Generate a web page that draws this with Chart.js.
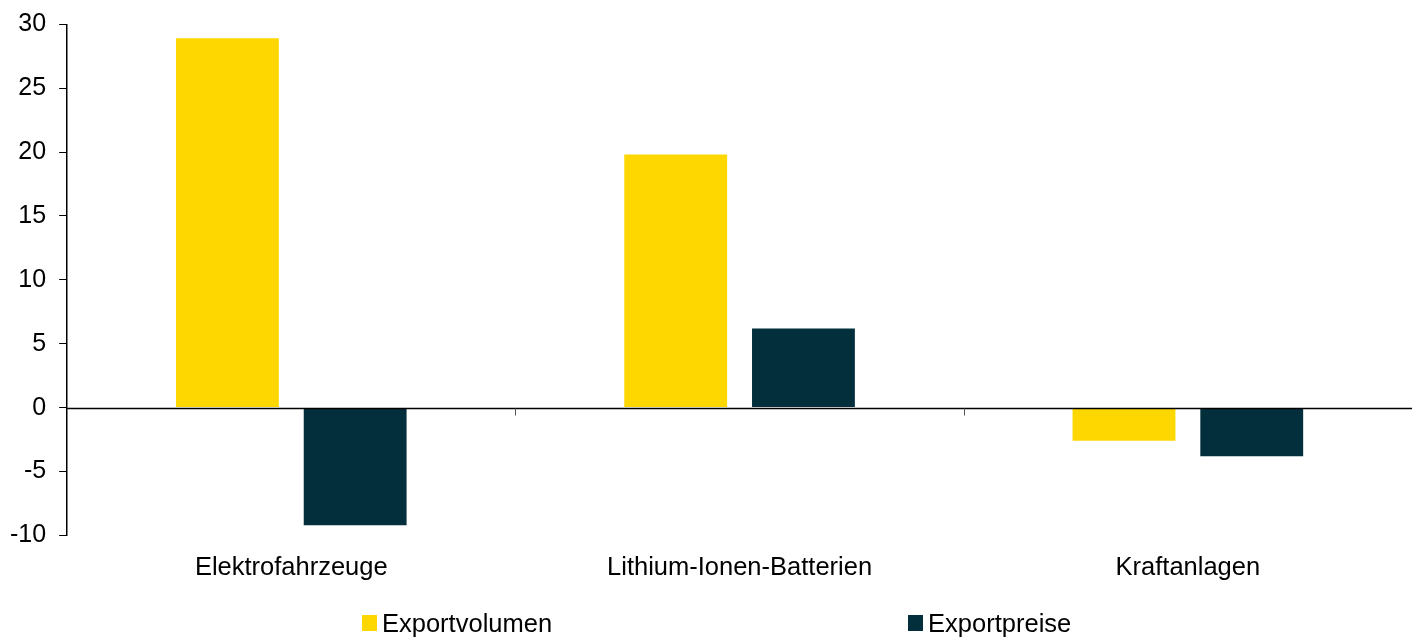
<!DOCTYPE html>
<html>
<head>
<meta charset="utf-8">
<script src="https://cdn.jsdelivr.net/npm/chart.js@4/dist/chart.umd.min.js"></script>
<style>
  html, body { margin: 0; padding: 0; background: #fff; }
  #wrap { position: relative; width: 1412px; height: 637px; }
  #legend {
    position: absolute; left: 362px; top: 608px;
    display: flex; gap: 356px;
    font-family: "Liberation Sans", Arial, sans-serif; font-size: 25.5px; line-height: 30px; color: #000;
  }
  #legend span.item { display: flex; align-items: center; }
  #legend span.box { width: 15px; height: 16px; margin-right: 5px; display: inline-block; }
</style>
</head>
<body>
<div id="wrap">
  <canvas id="myChart" width="1412" height="637"></canvas>
  <div id="legend"></div>
</div>
<script>
const categories = ['Elektrofahrzeuge', 'Lithium-Ionen-Batterien', 'Kraftanlagen']
const exportVolumen = [28.9, 19.8, -2.6]
const exportPreise = [-9.2, 6.2, -3.8]
const seriesNames = ['Exportvolumen', 'Exportpreise']
const colors = ['#FED700', '#032E3C']

// zero line over the bars plus small ticks between categories
const zeroLine = {
  id: 'zeroLine',
  afterDatasetsDraw(chart) {
    const { ctx, chartArea, scales } = chart
    const y0 = Math.round(scales.y.getPixelForValue(0)) + 0.5
    ctx.save()
    ctx.strokeStyle = '#000'
    ctx.lineWidth = 1.5
    ctx.beginPath()
    ctx.moveTo(chartArea.left, y0)
    ctx.lineTo(chartArea.right, y0)
    ctx.stroke()
    ctx.lineWidth = 1
    ctx.strokeStyle = '#555'
    for (let i = 0; i < categories.length - 1; i++) {
      const x = Math.round((scales.x.getPixelForTick(i) + scales.x.getPixelForTick(i + 1)) / 2) + 0.5
      ctx.beginPath()
      ctx.moveTo(x, y0)
      ctx.lineTo(x, y0 + 7)
      ctx.stroke()
    }
    ctx.restore()
  },
}

const ctx = document.getElementById('myChart').getContext('2d')
const data = {
  labels: categories,
  datasets: [
    { label: seriesNames[0], data: exportVolumen, backgroundColor: colors[0] },
    { label: seriesNames[1], data: exportPreise, backgroundColor: colors[1] },
  ],
}
const chart = new Chart(ctx, {
  type: 'bar',
  data,
  plugins: [zeroLine],
  options: {
    responsive: false,
    animation: false,
    layout: { padding: { top: 4, right: 0, bottom: 45, left: -3 } },
    datasets: { bar: { categoryPercentage: 0.57, barPercentage: 0.805 } },
    plugins: { legend: { display: false }, tooltip: { enabled: false } },
    scales: {
      x: {
        grid: { display: false },
        border: { display: false },
        ticks: { color: '#000', padding: 9, font: { family: 'Liberation Sans', size: 25.5 } },
      },
      y: {
        min: -10,
        max: 30,
        ticks: { stepSize: 5, color: '#000', padding: 13, font: { family: 'Liberation Sans', size: 25, lineHeight: 0.9 } },
        grid: { drawOnChartArea: false, tickLength: 8, tickColor: '#000' },
        border: { color: '#000', width: 1.5 },
      },
    },
  },
})

const legend = document.getElementById('legend')
seriesNames.forEach((name, i) => {
  const item = document.createElement('span')
  item.className = 'item'
  item.innerHTML = '<span class="box" style="background:' + colors[i] + '"></span>' + name
  legend.appendChild(item)
})
</script>
</body>
</html>
